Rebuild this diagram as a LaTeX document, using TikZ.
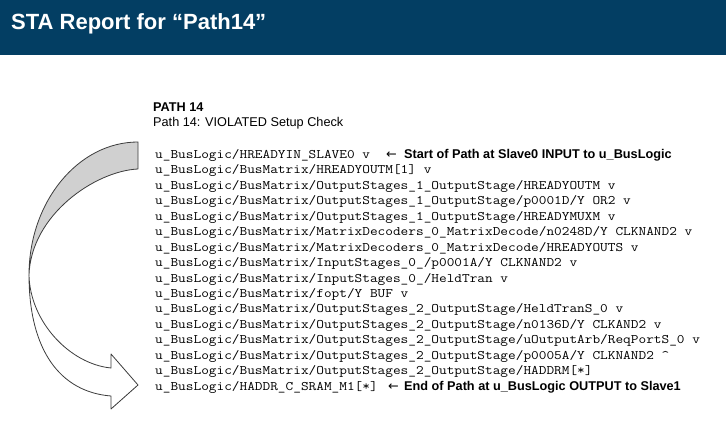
\documentclass[tikz,border=0pt]{standalone}
\usepackage{fontspec}
\setmainfont{Liberation Sans}
\newfontfamily\arrowfont{DejaVu Sans}
\definecolor{banner}{RGB}{3,62,99}
\definecolor{ribbonfill}{RGB}{208,208,208}
\definecolor{ribbonline}{RGB}{60,60,60}
\begin{document}
\begin{tikzpicture}[x=1pt,y=-1pt,
  mono/.style={anchor=base west,inner sep=0pt,xscale=1.146,transform shape,font=\fontsize{13}{15}\selectfont\ttfamily},
  plaintext/.style={anchor=base west,inner sep=0pt,font=\fontsize{12.7}{15}\selectfont},
  arrowtext/.style={anchor=base west,inner sep=0pt,font=\fontsize{12.7}{15}\selectfont\arrowfont},
  boldtext/.style={anchor=base west,inner sep=0pt,font=\fontsize{12.7}{15}\selectfont\bfseries},
  ribbon/.style={draw=ribbonline,line width=0.8pt,line join=round}]
\useasboundingbox (0,0) rectangle (726,427);
\fill[banner] (0,0) rectangle (726,55);
\node[anchor=base west,inner sep=0pt,text=white,font=\fontsize{22}{26}\selectfont\bfseries] (title) at (11,30) {STA Report for “Path14”};
\node[boldtext] (hdr) at (153,112) {PATH 14};
\node[plaintext] (sub) at (153,127) {Path 14: VIOLATED Setup Check};
\def\lx{155}
\node[mono] (l1) at (\lx,158.5) {u\_BusLogic/HREADYIN\_SLAVE0 v};
\node[mono] (l2) at (\lx,173.95) {u\_BusLogic/BusMatrix/HREADYOUTM[1] v};
\node[mono] (l3) at (\lx,189.4) {u\_BusLogic/BusMatrix/OutputStages\_1\_OutputStage/HREADYOUTM v};
\node[mono] (l4) at (\lx,204.85) {u\_BusLogic/BusMatrix/OutputStages\_1\_OutputStage/p0001D/Y OR2 v};
\node[mono] (l5) at (\lx,220.3) {u\_BusLogic/BusMatrix/OutputStages\_1\_OutputStage/HREADYMUXM v};
\node[mono] (l6) at (\lx,235.75) {u\_BusLogic/BusMatrix/MatrixDecoders\_0\_MatrixDecode/n0248D/Y CLKNAND2 v};
\node[mono] (l7) at (\lx,251.2) {u\_BusLogic/BusMatrix/MatrixDecoders\_0\_MatrixDecode/HREADYOUTS v};
\node[mono] (l8) at (\lx,266.65) {u\_BusLogic/BusMatrix/InputStages\_0\_/p0001A/Y CLKNAND2 v};
\node[mono] (l9) at (\lx,282.1) {u\_BusLogic/BusMatrix/InputStages\_0\_/HeldTran v};
\node[mono] (l10) at (\lx,297.55) {u\_BusLogic/BusMatrix/fopt/Y BUF v};
\node[mono] (l11) at (\lx,313) {u\_BusLogic/BusMatrix/OutputStages\_2\_OutputStage/HeldTranS\_0 v};
\node[mono] (l12) at (\lx,328.45) {u\_BusLogic/BusMatrix/OutputStages\_2\_OutputStage/n0136D/Y CLKAND2 v};
\node[mono] (l13) at (\lx,343.9) {u\_BusLogic/BusMatrix/OutputStages\_2\_OutputStage/uOutputArb/ReqPortS\_0 v};
\node[mono] (l14) at (\lx,359.35) {u\_BusLogic/BusMatrix/OutputStages\_2\_OutputStage/p0005A/Y CLKNAND2 \textasciicircum};
\node[mono] (l15) at (\lx,374.8) {u\_BusLogic/BusMatrix/OutputStages\_2\_OutputStage/HADDRM[*]};
\node[mono] (l16) at (\lx,390.25) {u\_BusLogic/HADDR\_C\_SRAM\_M1[*]};
\node[arrowtext] (a1) at (386,158.5) {←};
\node[boldtext] (n1) at (404,158.5) {Start of Path at Slave0 INPUT to u\_BusLogic};
\node[arrowtext] (a2) at (388,390.25) {←};
\node[boldtext] (n2) at (404,390.25) {End of Path at u\_BusLogic OUTPUT to Slave1};
% curved ribbon arrow
\coordinate (P) at (29,275);
\filldraw[ribbon,fill=ribbonfill] (138,142) -- (138,169)
  .. controls (95,171) and (31,215) .. (P)
  .. controls (29,202) and (78,142) .. cycle;
\filldraw[ribbon,fill=white] (P)
  .. controls (30,322) and (70,364) .. (111,368)
  -- (111,354) -- (138,385) -- (111,409) -- (111,396)
  .. controls (60,392) and (29,350) .. (P);
\end{tikzpicture}
\end{document}
